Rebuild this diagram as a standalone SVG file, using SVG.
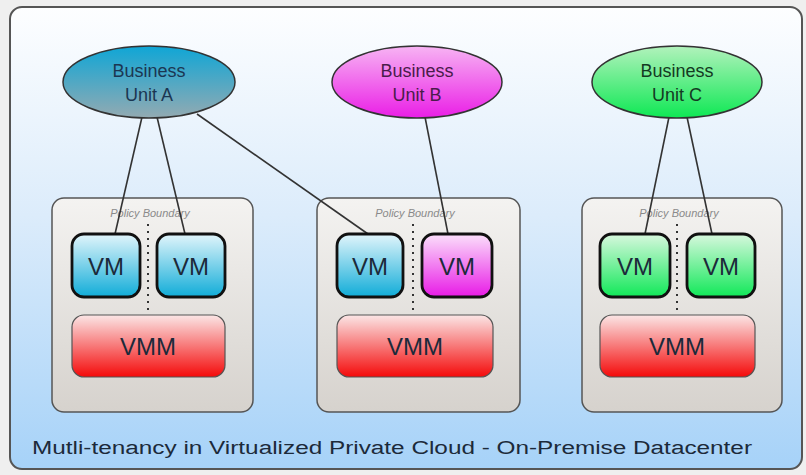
<svg xmlns="http://www.w3.org/2000/svg" width="806" height="475" viewBox="0 0 806 475">
<defs>
<linearGradient id="gFrame" x1="0" y1="0" x2="0" y2="1">
<stop offset="0" stop-color="#fdfeff"/>
<stop offset="0.45" stop-color="#dcecfb"/>
<stop offset="1" stop-color="#a6d2f8"/>
</linearGradient>
<linearGradient id="gA" x1="0" y1="0" x2="0" y2="1">
<stop offset="0" stop-color="#0fa6d6"/>
<stop offset="1" stop-color="#93aab2"/>
</linearGradient>
<linearGradient id="gB" x1="0" y1="0" x2="0" y2="1">
<stop offset="0" stop-color="#f7b4f3"/>
<stop offset="1" stop-color="#ea1ee6"/>
</linearGradient>
<linearGradient id="gC" x1="0" y1="0" x2="0" y2="1">
<stop offset="0" stop-color="#b2f2bc"/>
<stop offset="1" stop-color="#0ee854"/>
</linearGradient>
<linearGradient id="gBox" x1="0" y1="0" x2="0" y2="1">
<stop offset="0" stop-color="#f4f3f1"/>
<stop offset="1" stop-color="#d6d2cd"/>
</linearGradient>
<linearGradient id="gVMA" x1="0" y1="0" x2="0" y2="1">
<stop offset="0" stop-color="#e2f5fb"/>
<stop offset="1" stop-color="#10acd8"/>
</linearGradient>
<linearGradient id="gVMB" x1="0" y1="0" x2="0" y2="1">
<stop offset="0" stop-color="#fbe0fb"/>
<stop offset="1" stop-color="#e81ae6"/>
</linearGradient>
<linearGradient id="gVMC" x1="0" y1="0" x2="0" y2="1">
<stop offset="0" stop-color="#d8f8de"/>
<stop offset="1" stop-color="#10e858"/>
</linearGradient>
<linearGradient id="gVMM" x1="0" y1="0" x2="0" y2="1">
<stop offset="0" stop-color="#fbe6e6"/>
<stop offset="1" stop-color="#f40a0a"/>
</linearGradient>
</defs>
<style>
text{font-family:"Liberation Sans",Arial,sans-serif;text-anchor:middle}
.bu{stroke:#333;stroke-width:1.5}
.but{font-size:18px}
.box{fill:url(#gBox);stroke:#555;stroke-width:1.5}
.pb{font-size:11px;font-style:italic;fill:#8a8a8a}
.vm{stroke:#111;stroke-width:2.8}
.vmt{font-size:24px;fill:#1c2a3a}
.vmm{fill:url(#gVMM);stroke:#555;stroke-width:1.2}
.dot{stroke:#333;stroke-width:2;stroke-dasharray:2 5}
.link{stroke:#333;stroke-width:1.6;fill:none}
</style>
<rect x="0" y="0" width="806" height="475" fill="#efefef"/>
<rect id="frame" x="10" y="7" width="792" height="462" rx="12" fill="url(#gFrame)" stroke="#555" stroke-width="2"/>

<g id="boundary1">
<rect class="box" x="52" y="198" width="201" height="214" rx="12"/>
<text class="pb" x="150" y="217">Policy Boundary</text>
<line class="dot" x1="148" y1="224" x2="148" y2="312"/>
</g>
<g id="boundary2">
<rect class="box" x="317" y="198" width="203" height="214" rx="12"/>
<text class="pb" x="415" y="217">Policy Boundary</text>
<line class="dot" x1="413" y1="224" x2="413" y2="312"/>
</g>
<g id="boundary3">
<rect class="box" x="582" y="198" width="200" height="214" rx="12"/>
<text class="pb" x="679" y="217">Policy Boundary</text>
<line class="dot" x1="677" y1="224" x2="677" y2="312"/>
</g>

<g id="connectors">
<line class="link" x1="142" y1="117" x2="115" y2="234"/>
<line class="link" x1="157" y1="117" x2="185" y2="234"/>
<line class="link" x1="197" y1="114" x2="368" y2="234"/>
<line class="link" x1="425" y1="117" x2="448" y2="234"/>
<line class="link" x1="669" y1="117" x2="645" y2="234"/>
<line class="link" x1="687" y1="117" x2="712" y2="234"/>
</g>

<g id="unitA">
<ellipse class="bu" cx="149" cy="82" rx="86" ry="36" fill="url(#gA)"/>
<text class="but" x="149" y="77" fill="#1b3652">Business</text>
<text class="but" x="149" y="101" fill="#1b3652">Unit A</text>
</g>
<g id="unitB">
<ellipse class="bu" cx="417" cy="82" rx="85" ry="36" fill="url(#gB)"/>
<text class="but" x="417" y="77" fill="#4a1c4a">Business</text>
<text class="but" x="417" y="101" fill="#4a1c4a">Unit B</text>
</g>
<g id="unitC">
<ellipse class="bu" cx="677" cy="82" rx="85" ry="36" fill="url(#gC)"/>
<text class="but" x="677" y="77" fill="#143a22">Business</text>
<text class="but" x="677" y="101" fill="#143a22">Unit C</text>
</g>

<g id="vm1a">
<rect class="vm" x="72" y="234" width="68" height="63" rx="12" fill="url(#gVMA)"/>
<text class="vmt" x="106" y="275">VM</text>
</g>
<g id="vm1b">
<rect class="vm" x="157" y="234" width="68" height="63" rx="12" fill="url(#gVMA)"/>
<text class="vmt" x="191" y="275">VM</text>
</g>
<g id="vmm1">
<rect class="vmm" x="72" y="315" width="153" height="62" rx="12"/>
<text class="vmt" x="148" y="355">VMM</text>
</g>

<g id="vm2a">
<rect class="vm" x="337" y="234" width="66" height="63" rx="12" fill="url(#gVMA)"/>
<text class="vmt" x="370" y="275">VM</text>
</g>
<g id="vm2b">
<rect class="vm" x="422" y="234" width="70" height="63" rx="12" fill="url(#gVMB)"/>
<text class="vmt" x="457" y="275" fill="#3a1a40">VM</text>
</g>
<g id="vmm2">
<rect class="vmm" x="337" y="315" width="156" height="62" rx="12"/>
<text class="vmt" x="415" y="355">VMM</text>
</g>

<g id="vm3a">
<rect class="vm" x="600" y="234" width="70" height="63" rx="12" fill="url(#gVMC)"/>
<text class="vmt" x="635" y="275" fill="#123a1e">VM</text>
</g>
<g id="vm3b">
<rect class="vm" x="687" y="234" width="68" height="63" rx="12" fill="url(#gVMC)"/>
<text class="vmt" x="721" y="275" fill="#123a1e">VM</text>
</g>
<g id="vmm3">
<rect class="vmm" x="600" y="315" width="155" height="62" rx="12"/>
<text class="vmt" x="677" y="355">VMM</text>
</g>

<text id="caption" x="392" y="454" font-size="18" fill="#1c2a3a" textLength="720" lengthAdjust="spacingAndGlyphs">Mutli-tenancy in Virtualized Private Cloud - On-Premise Datacenter</text>
</svg>
